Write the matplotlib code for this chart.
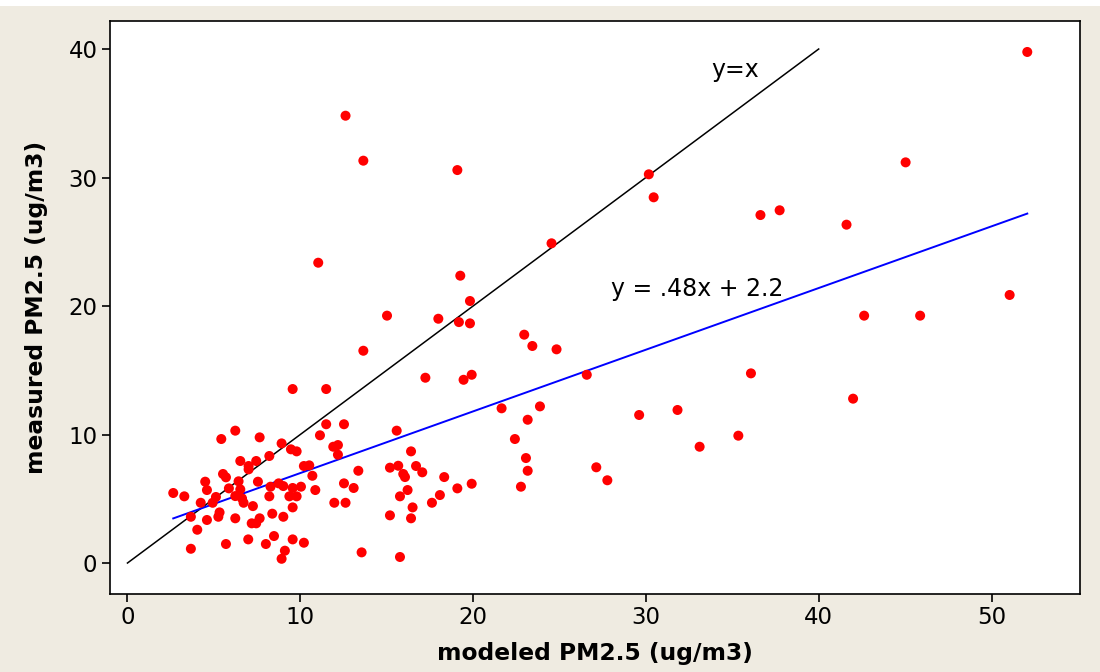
import numpy as np
import matplotlib
matplotlib.use('Agg')
import matplotlib.pyplot as plt
from matplotlib.patches import Rectangle

# modeled vs measured PM2.5
modeled = [
    9.56, 11.5, 6.24, 5.43, 7.65, 11.5, 12.53, 11.14, 8.92, 9.46,
    9.79, 11.91, 12.18, 12.18, 8.21, 6.53, 7.45, 7.01, 7.01, 10.21,
    10.52, 10.7, 5.53, 5.7, 4.5, 4.6, 6.43, 7.55, 5.87, 6.53,
    8.75, 9.02, 8.28, 9.56, 10.04, 10.87, 12.53, 2.65, 3.29, 5.12,
    4.93, 4.24, 6.24, 6.63, 6.72, 8.21, 9.37, 9.79, 11.97, 12.62,
    7.26, 9.56, 3.67, 5.33, 5.26, 4.6, 6.24, 8.38, 9.02, 7.19,
    7.45, 7.65, 4.04, 3.67, 5.7, 6.99, 8.01, 8.48, 9.56, 10.21,
    9.11, 8.92,
    15.58, 21.65, 23.87, 23.16, 22.42, 23.06, 23.16, 22.77, 19.92, 19.09,
    18.33, 18.08, 17.62, 16.41, 16.7, 17.06, 15.19, 15.67, 15.96, 16.06,
    16.21, 15.77, 16.5, 16.41, 15.19, 13.36, 13.09, 13.55, 15.77,
    12.62, 13.65, 19.09, 11.04, 19.26, 19.82, 15.02, 17.99, 19.18, 19.82,
    13.65, 22.96, 23.43, 17.24, 19.45, 19.92,
    52.07, 30.17, 30.45, 24.54, 36.63, 37.74, 45.03, 41.61, 51.05, 42.63,
    45.87, 24.83, 26.58, 36.08, 41.99, 29.61, 31.83, 35.35, 33.11, 27.13,
    27.77,
]
measured = [
    13.54, 13.54, 10.3, 9.65, 9.78, 10.8, 10.8, 9.94, 9.31, 8.85,
    8.69, 9.05, 9.18, 8.43, 8.33, 7.94, 7.94, 7.55, 7.29, 7.55,
    7.6, 6.79, 6.93, 6.67, 6.33, 5.68, 6.36, 6.33, 5.81, 5.73,
    6.2, 5.99, 5.94, 5.84, 5.94, 5.68, 6.2, 5.45, 5.19, 5.14,
    4.69, 4.69, 5.21, 5.03, 4.69, 5.19, 5.19, 5.19, 4.69, 4.69,
    4.43, 4.33, 3.6, 3.94, 3.6, 3.35, 3.48, 3.84, 3.6, 3.09,
    3.09, 3.48, 2.59, 1.11, 1.48, 1.84, 1.48, 2.1, 1.84, 1.58,
    0.96, 0.33,
    10.3, 12.04, 12.19, 11.15, 9.65, 8.17, 7.18, 5.94, 6.17, 5.81,
    6.69, 5.29, 4.69, 8.69, 7.55, 7.06, 7.42, 7.57, 6.93, 6.69,
    5.68, 5.19, 4.33, 3.48, 3.71, 7.18, 5.84, 0.83, 0.47,
    34.81, 31.31, 30.58, 23.37, 22.36, 20.39, 19.25, 19.01, 18.75, 18.65,
    16.52, 17.77, 16.89, 14.42, 14.26, 14.65,
    39.77, 30.25, 28.46, 24.88, 27.08, 27.45, 31.18, 26.33, 20.86, 19.25,
    19.25, 16.63, 14.65, 14.76, 12.79, 11.52, 11.91, 9.91, 9.05, 7.45,
    6.44,
]

# fitted line from the chart label: y = .48x + 2.2
slope, intercept = 0.48, 2.2
identity_x = [0, 40]

x = np.array(modeled)
y = np.array(measured)

fig = plt.figure(figsize=(11, 6.72), dpi=100)
fig.patch.set_facecolor('#EFEBE1')
fig.add_artist(Rectangle((0, 1 - 6 / 672), 1, 6 / 672, transform=fig.transFigure,
                         facecolor='white', edgecolor='none'))
ax = fig.add_axes([0.1, 1 - 594 / 672, 0.8818, 573 / 672])
ax.set_facecolor('white')

ax.scatter(x, y, s=52, color='#FF0000', edgecolors='none', zorder=3)
ax.plot(identity_x, identity_x, color='black', linewidth=1.1, zorder=2)
fit_x = np.array([x.min(), x.max()])
ax.plot(fit_x, slope * fit_x + intercept, color='#0000FF', linewidth=1.4, zorder=2)

ax.text(35.16, 38.37, 'y=x', fontsize=17, ha='center', va='center')
ax.text(32.96, 21.32, 'y = .48x + 2.2', fontsize=17, ha='center', va='center')

ax.set_xlim(-1.01, 55.12)
ax.set_ylim(-2.41, 42.18)
ax.set_xticks([0, 10, 20, 30, 40, 50])
ax.set_yticks([0, 10, 20, 30, 40])
ax.tick_params(direction='out', length=6, width=1.2, labelsize=16.5, pad=3)
for sp in ax.spines.values():
    sp.set_linewidth(1.2)

ax.set_xlabel('modeled PM2.5 (ug/m3)', fontsize=16.8, fontweight='bold')
ax.set_ylabel('measured PM2.5 (ug/m3)', fontsize=16.8, fontweight='bold')
ax.xaxis.set_label_coords(0.5, -0.084)
ax.yaxis.set_label_coords(-0.064, 0.5)

plt.savefig('out.png', dpi=100, facecolor=fig.get_facecolor())
